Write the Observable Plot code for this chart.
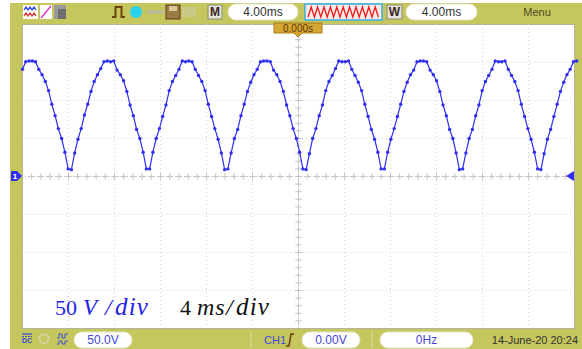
<!DOCTYPE html>
<html>
<head>
<meta charset="utf-8">
<script src="https://cdn.jsdelivr.net/npm/d3@7"></script>
<script src="https://cdn.jsdelivr.net/npm/@observablehq/plot@0.6"></script>
<style>
  html, body { margin: 0; padding: 0; background: #fff; }
  #scope { width: 582px; height: 349px; }
</style>
</head>
<body>
<div id="scope"></div>
<script>
// Channel 1 samples (V), one every sampleMs, starting at startMs
const volts = [
  141, 151, 152,
  152, 151, 141, 134, 125, 113, 95, 80, 63, 50, 32, 10,
  9, 31, 49, 63, 81, 95, 112, 125, 134, 142, 151, 152,
  151, 152, 140, 134, 126, 112, 94, 80, 62, 50, 32, 10,
  10, 32, 50, 63, 79, 94, 113, 125, 133, 141, 152, 151,
  152, 151, 141, 133, 125, 113, 95, 79, 63, 49, 31, 9,
  10, 31, 50, 62, 80, 95, 112, 124, 134, 141, 151, 152,
  152, 151, 140, 134, 125, 112, 94, 80, 63, 50, 32, 10,
  9, 30, 50, 63, 80, 94, 113, 125, 133, 142, 152, 151,
  151, 152, 141, 133, 124, 113, 95, 79, 62, 49, 32, 10,
  10, 32, 49, 63, 79, 95, 112, 124, 134, 140, 151, 152,
  152, 151, 140, 134, 126, 112, 94, 80, 62, 50, 31, 9,
  10, 31, 50, 62, 80, 94, 113, 125, 133, 141, 152, 151,
  151, 152, 141, 133, 125, 113, 95, 79, 63, 49, 32, 10,
  9, 30, 49, 62, 79, 95, 112, 124, 134, 141, 151, 152
];
const startMs = -24.0;
const sampleMs = 0.2835;

// Display settings
const msPerDiv = 4;
const voltsPerDiv = 50;
const hDivs = 12;
const vDivs = 8;

// Status bar texts
const timebaseLabel = "4.00ms";
const windowLabel = "4.00ms";
const menuLabel = "Menu";
const triggerPosLabel = "0.000s";
const ch1ScaleLabel = "50.0V";
const trigSourceLabel = "CH1";
const trigLevelLabel = "0.00V";
const freqLabel = "0Hz";
const dateLabel = "14-June-20 20:24";

const trace = volts.map((v, i) => ({t: startMs + i * sampleMs, v}));
const halfT = hDivs / 2 * msPerDiv;
const halfV = vDivs / 2 * voltsPerDiv;
const gridTimes = d3.range(-hDivs / 2 + 1, hDivs / 2).map(d => d * msPerDiv).filter(d => d !== 0);
const gridVolts = d3.range(-vDivs / 2 + 1, vDivs / 2).map(d => d * voltsPerDiv).filter(d => d !== 0);
const minorTimes = d3.range(-hDivs * 5 / 2 + 1, hDivs * 5 / 2).map(d => d * msPerDiv / 5);
const minorVolts = d3.range(-vDivs * 5 / 2 + 1, vDivs * 5 / 2).map(d => d * voltsPerDiv / 5);

const BLUE = "#2f2ff2";
const OLIVE = "#c6c65f";

const plot = Plot.plot({
  width: 582,
  height: 349,
  marginLeft: 22,
  marginRight: 8,
  marginTop: 24,
  marginBottom: 21,
  x: {domain: [-halfT, halfT], axis: null},
  y: {domain: [-halfV, halfV], axis: null},
  style: {background: "transparent", overflow: "visible"},
  marks: [
    Plot.frame({fill: "#fff", stroke: "#b4b49a"}),
    Plot.ruleX(gridTimes, {stroke: "#d2d2d2", strokeDasharray: "1,3"}),
    Plot.ruleY(gridVolts, {stroke: "#d2d2d2", strokeDasharray: "1,3"}),
    Plot.ruleX([0], {stroke: "#c4c4c4", strokeDasharray: "1,2"}),
    Plot.ruleY([0], {stroke: "#c4c4c4", strokeDasharray: "1,2"}),
    Plot.dot(minorTimes, {x: d => d, y: 0, symbol: "plus", r: 2.2, stroke: "#c4c4c4", strokeWidth: 1}),
    Plot.dot(minorVolts, {x: 0, y: d => d, symbol: "plus", r: 2.2, stroke: "#c4c4c4", strokeWidth: 1}),
    Plot.line(trace, {x: "t", y: "v", stroke: BLUE, strokeWidth: 1.2}),
    Plot.dot(trace, {x: "t", y: "v", r: 1.7, fill: BLUE})
  ]
});

document.getElementById("scope").appendChild(plot);

const svg = d3.select(plot);
const xs = plot.scale("x");
const ys = plot.scale("y");
const X0 = xs.apply(-halfT), X1 = xs.apply(halfT);

// instrument bezel behind the screen
const bezel = svg.insert("g", ":first-child");
bezel.append("rect").attr("x", 10).attr("y", 3).attr("width", 572).attr("height", 346).attr("fill", OLIVE);

const ui = svg.append("g")
  .attr("font-family", "'Liberation Sans', Arial, sans-serif")
  .attr("text-anchor", "start");

function pill(x, y, w, h, label, color) {
  ui.append("rect").attr("x", x).attr("y", y).attr("width", w).attr("height", h)
    .attr("rx", h / 2).attr("fill", "#fff").attr("stroke", "#e6e6c8");
  ui.append("text").attr("x", x + w / 2).attr("y", y + h / 2).attr("dy", "0.36em")
    .attr("text-anchor", "middle").attr("font-size", 12).attr("fill", color).text(label);
}
function box(x, y, w, h, letter) {
  ui.append("rect").attr("x", x).attr("y", y).attr("width", w).attr("height", h)
    .attr("fill", "#e4e4dc").attr("stroke", "#8a8a70");
  ui.append("text").attr("x", x + w / 2).attr("y", y + h / 2).attr("dy", "0.36em")
    .attr("text-anchor", "middle").attr("font-size", 12).attr("font-weight", "bold")
    .attr("fill", "#3b1f1f").text(letter);
}

// ---- top status bar ----
ui.append("rect").attr("x", 23).attr("y", 5).attr("width", 15).attr("height", 14).attr("fill", "#fff");
ui.append("polyline").attr("points", "24,10 26,7 28,10 30,7 32,10 34,7 36,10").attr("fill", "none").attr("stroke", "#2a46e8").attr("stroke-width", 1.3);
ui.append("polyline").attr("points", "24,16 26,13 28,16 30,13 32,16 34,13 36,16").attr("fill", "none").attr("stroke", "#e83030").attr("stroke-width", 1.3);
ui.append("rect").attr("x", 40).attr("y", 5).attr("width", 12).attr("height", 14).attr("fill", "#fff");
ui.append("line").attr("x1", 41).attr("y1", 18).attr("x2", 51).attr("y2", 6).attr("stroke", "#e040d0").attr("stroke-width", 1.6);
ui.append("rect").attr("x", 54).attr("y", 5).attr("width", 12).attr("height", 14).attr("fill", "#9a9a9a");
ui.append("rect").attr("x", 58).attr("y", 9).attr("width", 8).attr("height", 10).attr("fill", "#6e6e6e");
ui.append("path").attr("d", "M112,17 h3.5 v-10 h6 v10 h3.5").attr("fill", "none").attr("stroke", "#6b4410").attr("stroke-width", 2);
ui.append("circle").attr("cx", 136).attr("cy", 12).attr("r", 6).attr("fill", "#25d4ec");
ui.append("line").attr("x1", 147).attr("y1", 12).attr("x2", 164).attr("y2", 12).attr("stroke", "#b8b8a0").attr("stroke-width", 3);
ui.append("rect").attr("x", 166).attr("y", 5).attr("width", 14).attr("height", 14).attr("fill", "#9c7a44").attr("stroke", "#5a3a14");
ui.append("rect").attr("x", 169).attr("y", 6).attr("width", 8).attr("height", 5).attr("fill", "#d8c8a0");
ui.append("rect").attr("x", 182).attr("y", 7).attr("width", 14).attr("height", 10).attr("fill", "#c9c98a");
box(208, 5, 14, 14, "M");
pill(228, 4, 70, 16, timebaseLabel, "#333");
ui.append("rect").attr("x", 305).attr("y", 4).attr("width", 77).attr("height", 16).attr("fill", "#fde8e8").attr("stroke", "#3ab0e6").attr("stroke-width", 1.5);
{
  const pts = [];
  for (let k = 0; k <= 22; k++) pts.push(`${308 + k * 3.2},${k % 2 ? 7 : 17}`);
  ui.append("polyline").attr("points", pts.join(" ")).attr("fill", "none").attr("stroke", "#e82020").attr("stroke-width", 1.3);
}
box(387, 5, 15, 14, "W");
pill(406, 4, 71, 16, windowLabel, "#333");
ui.append("text").attr("x", 537).attr("y", 12).attr("dy", "0.36em").attr("text-anchor", "middle")
  .attr("font-size", 11).attr("fill", "#4d4d22").text(menuLabel);

// trigger position tag
{
  const cx = xs.apply(0);
  ui.append("path").attr("d", `M${cx - 24},23 h48 v10 h-20 l-4,4 l-4,-4 h-20 z`).attr("fill", "#d6a632").attr("stroke", "#a87a18");
  ui.append("text").attr("x", cx).attr("y", 28).attr("dy", "0.36em").attr("text-anchor", "middle")
    .attr("font-size", 10).attr("fill", "#5a3a08").text(triggerPosLabel);
}

// channel ground markers
{
  const gy = ys.apply(0);
  ui.append("path").attr("d", `M11,${gy - 5} h6 l5,5 l-5,5 h-6 z`).attr("fill", BLUE);
  ui.append("text").attr("x", 15).attr("y", gy).attr("dy", "0.36em").attr("text-anchor", "middle")
    .attr("font-size", 8).attr("font-weight", "bold").attr("fill", "#fff").text("1");
  ui.append("path").attr("d", `M${X1},${gy - 5} v10 l-8,-5 z`).attr("fill", BLUE);
}

// ---- bottom status bar ----
ui.append("line").attr("x1", 22).attr("y1", 334).attr("x2", 32).attr("y2", 334).attr("stroke", "#3c4cd8").attr("stroke-width", 1.2);
ui.append("line").attr("x1", 22).attr("y1", 336.5).attr("x2", 32).attr("y2", 336.5).attr("stroke", "#3c4cd8").attr("stroke-width", 1).attr("stroke-dasharray", "2,1");
ui.append("text").attr("x", 27).attr("y", 343).attr("text-anchor", "middle").attr("font-size", 7).attr("font-weight", "bold").attr("fill", "#3c4cd8").text("DC");
ui.append("circle").attr("cx", 44).attr("cy", 339).attr("r", 4.5).attr("fill", "none").attr("stroke", "#d8d8c8").attr("stroke-width", 2).attr("stroke-dasharray", "1.5,1");
ui.append("path").attr("d", "M57,338 h2 v-4 h3 v4 h3 v-4 h3").attr("fill", "none").attr("stroke", "#3c4cd8").attr("stroke-width", 1);
ui.append("path").attr("d", "M57,344 h2 v-3 h3 v3 h3 v-3 h3").attr("fill", "none").attr("stroke", "#3c4cd8").attr("stroke-width", 1);
pill(74, 332, 58, 16, ch1ScaleLabel, "#4646d6");
ui.append("line").attr("x1", 251).attr("y1", 331).attr("x2", 251).attr("y2", 348).attr("stroke", "#dcdca0");
ui.append("text").attr("x", 264).attr("y", 340).attr("dy", "0.36em").attr("font-size", 11).attr("fill", "#3c4cd8").text(trigSourceLabel);
ui.append("path").attr("d", "M286,346 h3 l2,-12 h3").attr("fill", "none").attr("stroke", "#6b4410").attr("stroke-width", 1.6);
pill(302, 332, 58, 16, trigLevelLabel, "#4646d6");
ui.append("line").attr("x1", 372).attr("y1", 331).attr("x2", 372).attr("y2", 348).attr("stroke", "#dcdca0");
pill(380, 332, 93, 16, freqLabel, "#4646d6");
ui.append("text").attr("x", 578).attr("y", 340).attr("dy", "0.36em").attr("text-anchor", "end")
  .attr("font-size", 11).attr("fill", "#333").text(dateLabel);

// ---- scale annotations on the screen ----
const ann = svg.append("g")
  .attr("font-family", "'Liberation Serif', 'Times New Roman', serif")
  .attr("text-anchor", "start");
{
  const y = ys.apply(-halfV) - 13;
  const part = (dx, str, italic, color, size, spacing) =>
    ann.append("text").attr("x", X0 + dx).attr("y", y).attr("fill", color)
      .attr("font-size", size)
      .attr("font-style", italic ? "italic" : "normal")
      .attr("letter-spacing", spacing || 0).text(str);
  part(33, "50", false, "#2323e8", 22);
  part(61, "V", true, "#2323e8", 23);
  part(83, "/", true, "#2323e8", 24);
  part(93, "div", true, "#2323e8", 25, 1.2);
  part(158, "4", false, "#111", 22);
  part(175, "ms", true, "#111", 24, 0.8);
  part(204, "/", true, "#111", 24);
  part(214, "div", true, "#111", 25, 1.2);
}
</script>
</body>
</html>
